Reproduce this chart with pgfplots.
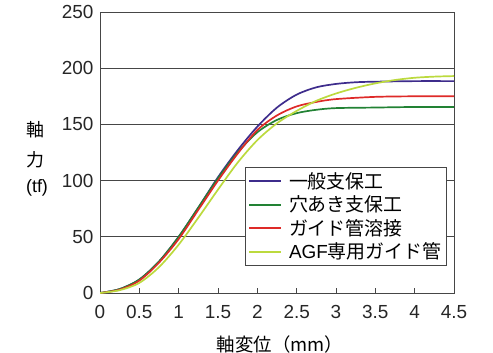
\documentclass[border=0pt]{standalone}
\usepackage{pgfplots}
\pgfplotsset{compat=1.18}
\usepackage{fontspec}
\setmainfont{Liberation Sans}
\newfontfamily\jp{Noto Sans CJK JP}
\definecolor{cpur}{RGB}{62,44,140}
\definecolor{cgrn}{RGB}{34,130,52}
\definecolor{cred}{RGB}{222,42,40}
\definecolor{cyel}{RGB}{188,218,62}
\definecolor{axgray}{RGB}{70,70,70}
\begin{document}
\begin{tikzpicture}
\begin{axis}[
  scale only axis, width=354bp, height=281bp,
  xmin=0, xmax=4.5, ymin=0, ymax=250,
  xtick={0,0.5,...,4.5}, ytick={0,50,...,250},
  xticklabels={0,0.5,1,1.5,2,2.5,3,3.5,4,4.5},
  /pgf/number format/assume math mode=true,
  tick label style={font=\fontsize{19}{21}\selectfont, text=black!85},
  xtick pos=bottom, tick align=inside, major tick length=5bp,
  ytick style={draw=none},
  xtick style={axgray, line width=0.8bp},
  ymajorgrids, major grid style={axgray, line width=1bp},
  axis line style={axgray, line width=1bp},
  xticklabel style={yshift=-9bp},
  yticklabel style={xshift=-3bp},
  legend style={at={(0.98,0.448)}, anchor=north east, draw=axgray, line width=0.8bp,
    font=\fontsize{19}{21}\selectfont, inner xsep=3bp, inner ysep=3bp, row sep=2bp, cells={anchor=west}},
  legend image code/.code={\draw[#1, line width=2bp] (0bp,0bp) -- (32bp,0bp); \path (37bp,0bp);},
  legend cell align=left,
  every axis plot/.append style={line width=1.7bp, smooth},
]
\addplot[cpur] coordinates {(0,0) (0.25,3.5) (0.5,12) (0.75,28) (1,50) (1.25,76) (1.5,103) (1.75,127) (2,148) (2.25,165) (2.5,176.5) (2.75,183) (3,186) (3.25,187.5) (3.5,188) (4,188.5) (4.5,188.5)};
\addlegendentry{\jp 一般支保工}
\addplot[cgrn] coordinates {(0,0) (0.25,3.5) (0.5,12) (0.75,28) (1,50) (1.25,76) (1.5,102) (1.75,125) (2,143) (2.25,154) (2.5,160) (2.75,163) (3,164.5) (3.5,165) (4,165.5) (4.5,165.5)};
\addlegendentry{\jp 穴あき支保工}
\addplot[cred] coordinates {(0,0) (0.25,3) (0.5,11) (0.75,27) (1,48) (1.25,74) (1.5,100) (1.75,124) (2,145) (2.25,158) (2.5,166) (2.75,170) (3,172.5) (3.5,174.5) (4,175) (4.5,175)};
\addlegendentry{\jp ガイド管溶接}
\addplot[cyel] coordinates {(0,0) (0.25,2.5) (0.5,9) (0.75,23) (1,43) (1.25,67) (1.5,92) (1.75,116) (2,136) (2.25,151) (2.5,162) (2.75,171) (3,177.5) (3.25,182.5) (3.5,186.5) (3.75,189.5) (4,191.5) (4.25,192.5) (4.5,193)};
\addlegendentry{AGF{\jp 専用ガイド管}}
\end{axis}
\node[font=\jp\fontsize{18}{20}\selectfont] at (-65bp,163bp) {軸};
\node[font=\jp\fontsize{18}{20}\selectfont] at (-65bp,133bp) {力};
\node[font=\fontsize{18}{20}\selectfont] at (-63bp,105bp) {(tf)};
\node[font=\jp\fontsize{18.5}{20}\selectfont] at (180bp,-51bp) {軸変位（mm）};
\pgfresetboundingbox
\path (-100bp,-60bp) rectangle (393bp,293bp);
\end{tikzpicture}
\end{document}
